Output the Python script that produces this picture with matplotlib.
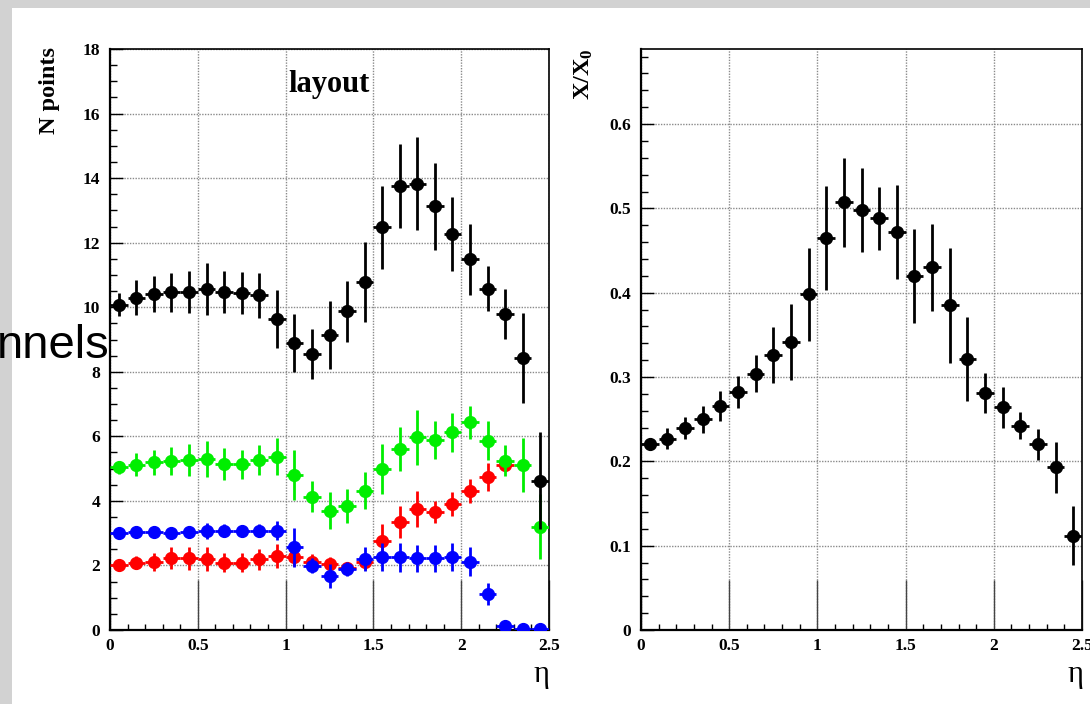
import matplotlib
matplotlib.use("Agg")
import matplotlib.pyplot as plt
from matplotlib.patches import Rectangle
from matplotlib.ticker import MultipleLocator

# ---------------- data ----------------
eta = [0.05, 0.15, 0.25, 0.35, 0.45, 0.55, 0.65, 0.75, 0.85, 0.95,
       1.05, 1.15, 1.25, 1.35, 1.45, 1.55, 1.65, 1.75, 1.85, 1.95,
       2.05, 2.15, 2.25, 2.35, 2.45]
eta_half_width = 0.05

n_total = [10.08, 10.30, 10.41, 10.46, 10.47, 10.56, 10.46, 10.43, 10.37, 9.63,
           8.89, 8.55, 9.15, 9.87, 10.78, 12.47, 13.75, 13.83, 13.13, 12.27,
           11.49, 10.57, 9.79, 8.42, 4.63]
n_total_err = [0.35, 0.55, 0.55, 0.60, 0.65, 0.80, 0.65, 0.65, 0.70, 0.90,
               0.90, 0.78, 1.05, 0.95, 1.25, 1.30, 1.30, 1.45, 1.35, 1.15,
               1.10, 0.70, 0.78, 1.40, 1.50]

n_green = [5.04, 5.12, 5.19, 5.24, 5.27, 5.30, 5.15, 5.13, 5.27, 5.37,
           4.81, 4.13, 3.70, 3.84, 4.32, 4.98, 5.61, 5.97, 5.89, 6.12,
           6.43, 5.86, 5.25, 5.12, 3.20]
n_green_err = [0.20, 0.35, 0.40, 0.43, 0.50, 0.55, 0.50, 0.45, 0.47, 0.57,
               0.77, 0.48, 0.57, 0.54, 0.56, 0.78, 0.67, 0.85, 0.58, 0.59,
               0.51, 0.60, 0.49, 0.83, 1.00]

eta_red = eta[:23]
n_red = [2.02, 2.09, 2.12, 2.22, 2.22, 2.20, 2.09, 2.09, 2.19, 2.29,
         2.25, 2.12, 2.04, 1.91, 2.12, 2.77, 3.34, 3.75, 3.65, 3.90,
         4.31, 4.73, 5.12]
n_red_err = [0.12, 0.20, 0.28, 0.34, 0.36, 0.38, 0.30, 0.30, 0.33, 0.38,
             0.28, 0.25, 0.23, 0.17, 0.27, 0.50, 0.50, 0.55, 0.35, 0.38,
             0.37, 0.43, 0.13]

n_blue = [3.02, 3.04, 3.05, 3.02, 3.05, 3.08, 3.07, 3.07, 3.07, 3.08,
          2.56, 1.99, 1.67, 1.88, 2.20, 2.25, 2.25, 2.22, 2.22, 2.25,
          2.12, 1.12, 0.12, 0.02, 0.02]
n_blue_err = [0.10, 0.12, 0.15, 0.12, 0.15, 0.25, 0.20, 0.15, 0.20, 0.30,
              0.60, 0.23, 0.38, 0.22, 0.38, 0.43, 0.45, 0.42, 0.42, 0.43,
              0.44, 0.34, 0.15, 0.02, 0.02]

x_x0 = [0.220, 0.227, 0.240, 0.250, 0.266, 0.282, 0.304, 0.326, 0.342, 0.398,
        0.465, 0.507, 0.498, 0.488, 0.472, 0.420, 0.430, 0.385, 0.321, 0.281,
        0.264, 0.242, 0.220, 0.193, 0.112]
x_x0_err = [0.006, 0.012, 0.013, 0.016, 0.018, 0.019, 0.022, 0.033, 0.045, 0.055,
            0.062, 0.053, 0.050, 0.037, 0.056, 0.056, 0.052, 0.068, 0.050, 0.024,
            0.024, 0.016, 0.018, 0.030, 0.035]

x_ticks = [0, 0.5, 1, 1.5, 2, 2.5]
x_ticklabels = ["0", "0.5", "1", "1.5", "2", "2.5"]
left_yticks = [0, 2, 4, 6, 8, 10, 12, 14, 16, 18]
left_yticklabels = ["0", "2", "4", "6", "8", "10", "12", "14", "16", "18"]
right_yticks = [0, 0.1, 0.2, 0.3, 0.4, 0.5, 0.6]
right_yticklabels = ["0", "0.1", "0.2", "0.3", "0.4", "0.5", "0.6"]

# ---------------- style ----------------
plt.rcParams['font.family'] = ['Liberation Serif', 'DejaVu Serif']
plt.rcParams['mathtext.fontset'] = 'custom'
plt.rcParams['mathtext.rm'] = 'Liberation Serif'
plt.rcParams['mathtext.bf'] = 'Liberation Serif:bold'

W, H = 1090, 704
fig = plt.figure(figsize=(W / 100, H / 100), dpi=100)
fig.patch.set_facecolor('#d2d2d2')
fig.add_artist(Rectangle((12 / W, 0), 1, (H - 8) / H, transform=fig.transFigure,
                         facecolor='white', edgecolor='none', zorder=-10))

ax1 = fig.add_axes([110 / W, 74 / H, 439 / W, 581 / H])
ax2 = fig.add_axes([641 / W, 74 / H, 441 / W, 581 / H])


def style_axes(ax, yticks, yticklabels, ymax, yminor):
    ax.set_xlim(0, 2.5)
    ax.set_ylim(0, ymax)
    ax.set_xticks(x_ticks)
    ax.set_xticklabels(x_ticklabels)
    ax.set_yticks(yticks)
    ax.set_yticklabels(yticklabels)
    ax.xaxis.set_minor_locator(MultipleLocator(0.1))
    ax.yaxis.set_minor_locator(MultipleLocator(yminor))
    ax.grid(True, which='major', linestyle=(0, (1, 1)), color='#8a8a8a', linewidth=1.0)
    ax.set_axisbelow(True)
    ax.tick_params(axis='both', which='both', direction='in', top=False, right=False,
                   labelsize=12.5, colors='black')
    ax.tick_params(axis='x', which='major', length=36, width=1.0, color='#444444', pad=6)
    ax.tick_params(axis='x', which='minor', length=4.5, width=1.0)
    ax.tick_params(axis='y', which='major', length=9.5, width=1.0, pad=7)
    ax.tick_params(axis='y', which='minor', length=5, width=1.0)
    for lab in ax.get_xticklabels() + ax.get_yticklabels():
        lab.set_fontweight('bold')
    ax.spines['left'].set_linewidth(1.6)
    ax.spines['bottom'].set_linewidth(1.6)
    ax.spines['top'].set_linewidth(1.2)
    ax.spines['right'].set_linewidth(1.2)


style_axes(ax1, left_yticks, left_yticklabels, 18, 0.5)
style_axes(ax2, right_yticks, right_yticklabels, 0.689, 0.02)

ekw = dict(fmt='o', markersize=8.5, elinewidth=2.0, capsize=0, xerr=eta_half_width)
ax1.errorbar(eta_red, n_red, yerr=n_red_err, color='#ff0000', zorder=3, **ekw)
ax1.errorbar(eta, n_blue, yerr=n_blue_err, color='#0000ff', zorder=4, **ekw)
ax1.errorbar(eta, n_green, yerr=n_green_err, color='#00ee00', zorder=5, **ekw)
ax1.errorbar(eta, n_total, yerr=n_total_err, color='black', zorder=6, **ekw)

ax2.errorbar(eta, x_x0, yerr=x_x0_err, color='black', zorder=6, **ekw)

ax1.text(1.25, 16.68, 'layout', ha='center', va='baseline', fontsize=22,
         fontweight='bold')

# axis titles
fig.text(50 / W, 1 - 47 / H, 'N points', rotation=90, ha='center', va='top',
         fontsize=17.5, fontweight='bold')
fig.text(584 / W, 1 - 48 / H, r'$\mathbf{X/X_0}$', rotation=90, ha='center', va='top',
         fontsize=17.5)
fig.text(549 / W, 1 - 660 / H, 'η', ha='right', va='top', fontsize=22)
fig.text(1083 / W, 1 - 660 / H, 'η', ha='right', va='top', fontsize=22)

# overlapping leftover slide text
fig.text(-3 / W, 1 - 358 / H, 'nnels', ha='left', va='baseline', fontsize=34,
         family=['Liberation Sans', 'DejaVu Sans'], zorder=20)

fig.savefig('out.png', dpi=100, facecolor=fig.get_facecolor())
